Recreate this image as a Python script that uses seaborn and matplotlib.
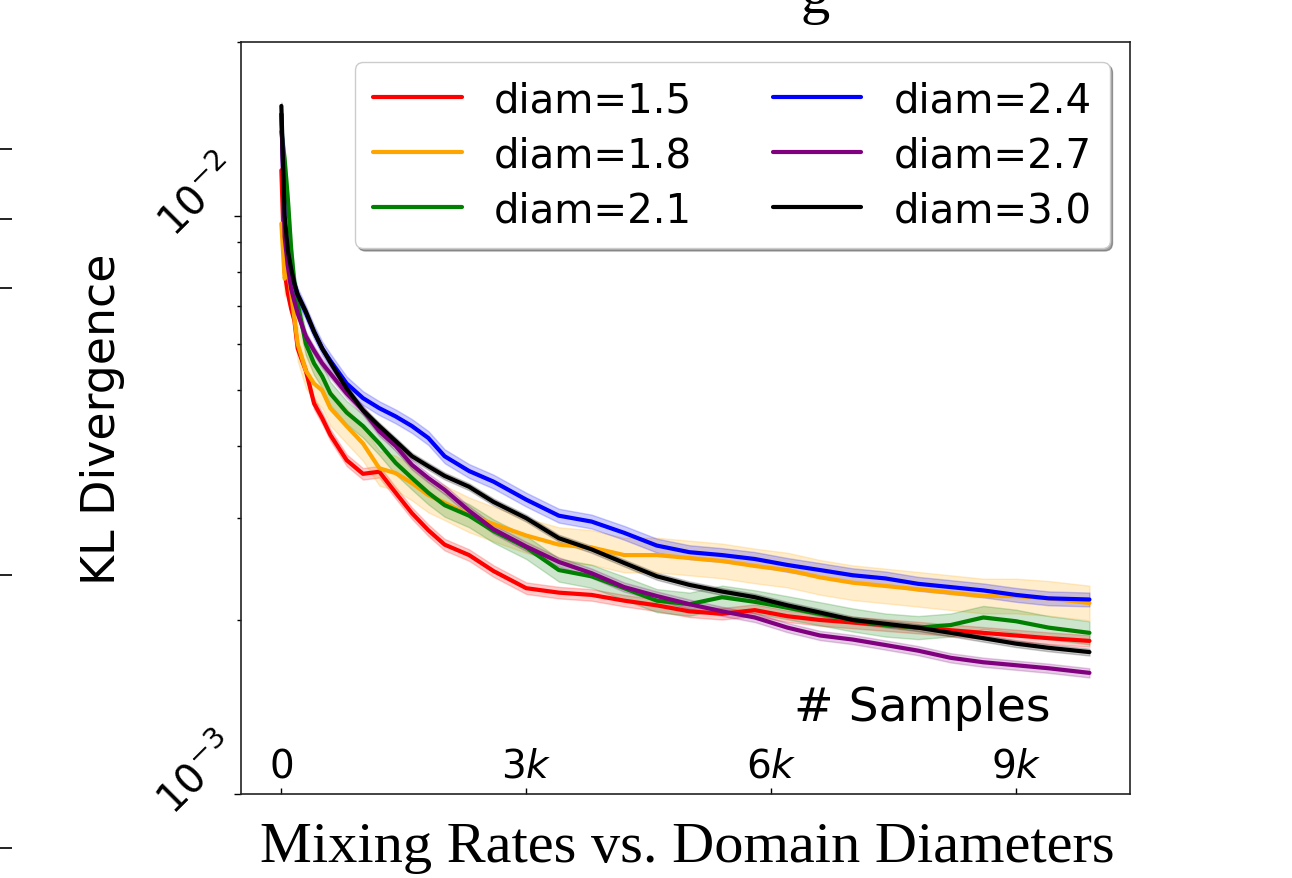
import numpy as np
import pandas as pd
import matplotlib
matplotlib.use("Agg")
import matplotlib.pyplot as plt
import matplotlib.transforms as mtransforms
import seaborn as sns

# ---------------- data ----------------
samples = [0, 40, 80, 120, 160, 200, 300, 400, 500, 600, 800, 1000, 1200, 1400,
           1600, 1800, 2000, 2300, 2600, 3000, 3400, 3800, 4200, 4600, 5000,
           5400, 5800, 6200, 6600, 7000, 7400, 7800, 8200, 8600, 9000, 9400, 9900]

kl_d15 = [0.0120, 0.0080, 0.00734, 0.00691, 0.00659, 0.00590, 0.00540, 0.00474,
          0.00447, 0.00418, 0.00378, 0.00358, 0.00361, 0.00332, 0.00306, 0.00286,
          0.00270, 0.00259, 0.00243, 0.00227, 0.00223, 0.00221, 0.00216, 0.00212,
          0.00207, 0.00205, 0.00208, 0.00203, 0.00200, 0.00198, 0.00196, 0.00194,
          0.00192, 0.00190, 0.00188, 0.00186, 0.00184]
kl_d18 = [0.0097, 0.00779, 0.0081, 0.00734, 0.00665, 0.00601, 0.00540, 0.00513,
          0.00499, 0.00465, 0.00433, 0.00404, 0.00366, 0.00359, 0.00345, 0.00329,
          0.00319, 0.00304, 0.00293, 0.00280, 0.00270, 0.00267, 0.00259, 0.00259,
          0.00256, 0.00253, 0.00248, 0.00244, 0.00237, 0.00232, 0.00229, 0.00226,
          0.00223, 0.00220, 0.00220, 0.00218, 0.00214]
kl_d21 = [0.0140, 0.01254, 0.01070, 0.00877, 0.00764, 0.00705, 0.00601, 0.00556,
          0.00528, 0.00493, 0.00457, 0.00433, 0.00404, 0.00374, 0.00352, 0.00332,
          0.00316, 0.00303, 0.00285, 0.00267, 0.00244, 0.00238, 0.00227, 0.00216,
          0.00213, 0.00219, 0.00215, 0.00210, 0.00205, 0.00200, 0.00196, 0.00194,
          0.00196, 0.00202, 0.00199, 0.00194, 0.00190]
kl_d24 = [0.0150, 0.0098, 0.0086, 0.0080, 0.0076, 0.0073, 0.0068, 0.0063,
          0.0059, 0.00562, 0.00513, 0.00484, 0.00465, 0.00450, 0.00433, 0.00413,
          0.00384, 0.00362, 0.00347, 0.00323, 0.00303, 0.00296, 0.00283, 0.00269,
          0.00262, 0.00259, 0.00255, 0.00249, 0.00244, 0.00239, 0.00236, 0.00231,
          0.00228, 0.00225, 0.00221, 0.00218, 0.00217]
kl_d27 = [0.0150, 0.0092, 0.00817, 0.00748, 0.00711, 0.00678, 0.00619, 0.00585,
          0.00556, 0.00534, 0.00493, 0.00461, 0.00424, 0.00400, 0.00371, 0.00352,
          0.00336, 0.00309, 0.00287, 0.00268, 0.00252, 0.00241, 0.00228, 0.00220,
          0.00213, 0.00207, 0.00202, 0.00194, 0.00188, 0.00185, 0.00181, 0.00177,
          0.00172, 0.00169, 0.00167, 0.00165, 0.00162]
kl_d30 = [0.0155, 0.0100, 0.00870, 0.00810, 0.00764, 0.00731, 0.00683, 0.00631,
          0.00590, 0.00558, 0.00503, 0.00461, 0.00433, 0.00408, 0.00384, 0.00369,
          0.00355, 0.00340, 0.00320, 0.00300, 0.00277, 0.00265, 0.00251, 0.00238,
          0.00230, 0.00224, 0.00219, 0.00212, 0.00206, 0.00200, 0.00197, 0.00194,
          0.00190, 0.00186, 0.00182, 0.00179, 0.00176]

diam_labels = ["diam=1.5", "diam=1.8", "diam=2.1", "diam=2.4", "diam=2.7", "diam=3.0"]
# half-width of the shaded band, in decades (log10 units)
band_halfwidth = [0.010, 0.030, 0.020, 0.012, 0.008, 0.006]
colors = ["red", "orange", "green", "blue", "purple", "black"]

xtick_vals = [0, 3000, 6000, 9000]
xtick_labels = ["$0$", "$3k$", "$6k$", "$9k$"]

# ---------------- build long table (lower / mid / upper per point) ----------------
series = [kl_d15, kl_d18, kl_d21, kl_d24, kl_d27, kl_d30]
rows = []
for lab, vals, hw in zip(diam_labels, series, band_halfwidth):
    for s, v in zip(samples, vals):
        for k in (-1, 0, 1):
            rows.append({"samples": s, "kl": v * 10 ** (k * hw), "diam": lab})
df = pd.DataFrame(rows)

# ---------------- figure ----------------
sns.set_style("white")
plt.rcParams["font.family"] = ["DejaVu Sans"]
plt.rcParams["mathtext.fontset"] = "dejavusans"
for key in ("text.color", "axes.labelcolor", "xtick.color", "ytick.color",
            "axes.edgecolor"):
    plt.rcParams[key] = "black"

fig = plt.figure(figsize=(12.92, 8.79), dpi=100)
ax = fig.add_axes([0.1865, 0.0956, 0.688, 0.8555])
ax.set_yscale("log")

sns.lineplot(data=df, x="samples", y="kl", hue="diam", hue_order=diam_labels,
             palette=dict(zip(diam_labels, colors)), estimator="median",
             errorbar=("pi", 100), linewidth=3, ax=ax, legend=True)

ax.set_xlim(-495, 10395)
ax.set_ylim(1e-3, 2e-2)

for sp in ax.spines.values():
    sp.set_visible(True)
    sp.set_color("#222222")
    sp.set_linewidth(1.2)

ax.set_xticks(xtick_vals)
ax.set_xticklabels(xtick_labels)
ax.tick_params(axis="x", direction="in", length=4, width=1, pad=-34,
               labelsize=28, bottom=True)
ax.tick_params(axis="y", which="major", direction="out", length=5, width=1,
               labelsize=29, left=True)
ax.tick_params(axis="y", which="minor", direction="out", length=3, width=1,
               left=True)
shift = mtransforms.ScaledTranslation(12 / 72, 14 / 72, fig.dpi_scale_trans)
for t in ax.get_yticklabels():
    t.set_rotation(45)
    t.set_horizontalalignment("right")
    t.set_verticalalignment("center")
    t.set_transform(t.get_transform() + shift)

ax.set_xlabel("# Samples", fontsize=34)
ax.xaxis.set_label_coords(0.766, 0.145)
ax.set_ylabel("KL Divergence", fontsize=33)
ax.yaxis.set_label_coords(-0.13, 0.5)

leg = ax.get_legend()
handles = leg.legend_handles
labels = [t.get_text() for t in leg.get_texts()]
newleg = ax.legend(handles, labels, ncol=2, loc="upper right", fontsize=29,
                   frameon=True, fancybox=True, shadow=True, framealpha=1,
                   handlelength=2.2, handletextpad=0.8, columnspacing=2.0,
                   labelspacing=0.37, borderpad=0.45)
for h in newleg.legend_handles:
    h.set_linewidth(3)

# caption
fig.text(0.532, 0.035, "Mixing Rates vs. Domain Diameters", ha="center",
         va="center", fontsize=42, family=["Liberation Serif"], color="black")

# cropped caption of the panel above (only the descender of a "g" shows)
fig.text(0.631, 0.985, "g", ha="center", va="baseline", fontsize=42,
         family=["Liberation Serif"], color="black")

# tick marks of the neighbouring panel at the left edge
aux = fig.add_axes([-0.2, 0.0, 0.198, 1.0])
aux.set_ylim(0, 1)
aux.set_xticks([])
for sp in aux.spines.values():
    sp.set_visible(False)
aux.yaxis.tick_right()
aux.set_yticks([(879 - y) / 879 for y in (150, 220, 289, 576, 849)])
aux.tick_params(axis="y", direction="out", length=11, width=1.4, labelright=False,
                color="#222222")
aux.patch.set_visible(False)

fig.savefig("out.png", dpi=100)
